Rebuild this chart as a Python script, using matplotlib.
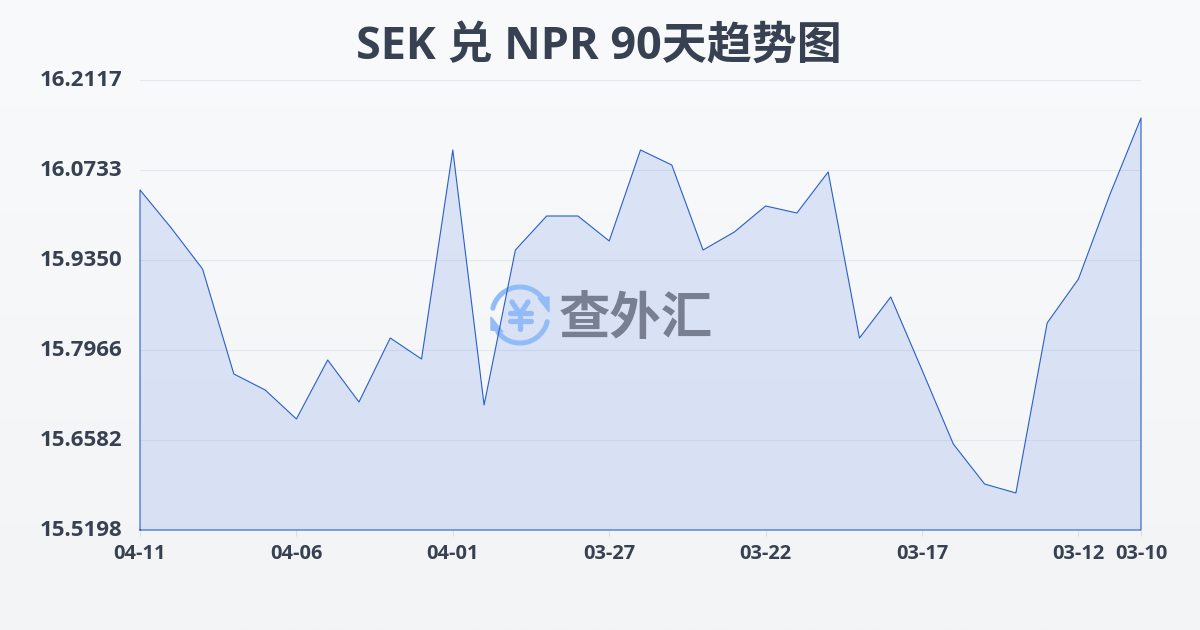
import matplotlib
matplotlib.use("Agg")
import matplotlib.pyplot as plt
import numpy as np
from matplotlib.patches import Polygon
from matplotlib.transforms import Affine2D

dates = ["04-11", "04-10", "04-09", "04-08", "04-07", "04-06", "04-05", "04-04", "04-03", "04-02", "04-01",
         "03-31", "03-30", "03-29", "03-28", "03-27", "03-26", "03-25", "03-24", "03-23", "03-22", "03-21",
         "03-20", "03-19", "03-18", "03-17", "03-16", "03-15", "03-14", "03-13", "03-12", "03-11", "03-10"]
rates = [16.0426, 15.9841, 15.9211, 15.7597, 15.7351, 15.6905, 15.7812, 15.7166, 15.8150, 15.7827, 16.1041,
         15.7120, 15.9503, 16.0026, 16.0026, 15.9642, 16.1041, 16.0810, 15.9503, 15.9780, 16.0180, 16.0072,
         16.0703, 15.8150, 15.8781, 15.7658, 15.6520, 15.5905, 15.5767, 15.8381, 15.9057, 16.0349, 16.1533]
y_ticks = [15.5198, 15.6582, 15.7966, 15.9350, 16.0733, 16.2117]
x_labels = ["04-11", "04-06", "04-01", "03-27", "03-22", "03-17", "03-12", "03-10"]
title = "SEK 兑 NPR 90天趋势图"

plt.rcParams['font.family'] = ['Open Sans', 'Noto Sans CJK SC', 'DejaVu Sans']
DARK = '#374151'
BLUE = '#2a5fc9'
LOGO = '#93bbf8'

W, H = 1200, 630
fig = plt.figure(figsize=(W / 100, H / 100), dpi=100)

# page background, light vertical gradient
bg = fig.add_axes([0, 0, 1, 1], zorder=0)
grad = np.linspace(0, 1, 256).reshape(-1, 1, 1)
top = np.array([248, 250, 252]) / 255
bottom = np.array([243, 244, 246]) / 255
bg.imshow(top + grad * (bottom - top), aspect='auto', extent=[0, 1, 0, 1])
bg.axis("off")

left, right, ytop, ybot = 140, 1141, 80, 530
ax = fig.add_axes([left / W, 1 - ybot / H, (right - left) / W, (ybot - ytop) / H], zorder=1)
ax.patch.set_alpha(0)

x = np.arange(len(dates))
ax.fill_between(x, rates, y_ticks[0], facecolor='#3b6fe0', alpha=0.15, linewidth=0, zorder=2)
ax.plot(np.r_[x[0], x, x[-1], x[0]], np.r_[y_ticks[0], rates, y_ticks[0], y_ticks[0]],
        color=BLUE, linewidth=0.8, zorder=5, clip_on=False)

ax.set_xlim(0, len(dates) - 1)
ax.set_ylim(y_ticks[0], y_ticks[-1])
ax.set_yticks(y_ticks)
ax.set_yticklabels(["%.4f" % v for v in y_ticks], fontsize=16, fontweight='bold', color=DARK)
ax.set_xticks([dates.index(d) for d in x_labels])
ax.set_xticklabels(x_labels, fontsize=14.4, fontweight='bold', color=DARK)
ax.tick_params(axis='y', length=0, pad=13)
ax.tick_params(axis='x', length=4, width=0.8, color='#d9dee6', pad=6)
ax.grid(axis='y', color='#e4e8ee', linewidth=0.8, zorder=1)
ax.set_axisbelow(True)
for s in ax.spines.values():
    s.set_visible(False)
for lab in ax.get_yticklabels():
    lab.set_transform(lab.get_transform() + Affine2D().translate(0, 2))

# watermark, drawn in pixel coords between the fill and the line
px = Affine2D().scale(1, -1).translate(0, H)
cx, cy, r = 520, 315, 28
for a0, a1 in [(166, 32), (-14, -142)]:
    t = np.radians(np.linspace(a0, a1, 60))
    ax.plot(cx + r * np.cos(t), cy - r * np.sin(t), color=LOGO, lw=3.6, solid_capstyle='round',
            transform=px, clip_on=False, zorder=3)
for pts in [[(538, 298), (549, 297), (549, 312)], [(491, 317), (491, 330), (503, 332)]]:
    ax.add_patch(Polygon(pts, closed=True, color=LOGO, transform=px, clip_on=False, zorder=3))
for xs, ys in [([512, 520, 528], [302, 314, 302]), ([520, 520], [314, 329]), ([510, 531], [313, 313]), ([510, 531], [321, 321])]:
    ax.plot(xs, ys, color=LOGO, lw=3.8, solid_capstyle='round', transform=px, clip_on=False, zorder=3)
ax.text(636, 321, "查外汇", fontsize=37, fontweight='bold', color='#787f90', ha='center', va='center',
        transform=px, clip_on=False, zorder=3)

fig.text(599 / W, 1 - 47 / H, title, fontsize=32.4, fontweight='bold', color=DARK, ha='center', va='center')

fig.savefig("out.png", dpi=100)
